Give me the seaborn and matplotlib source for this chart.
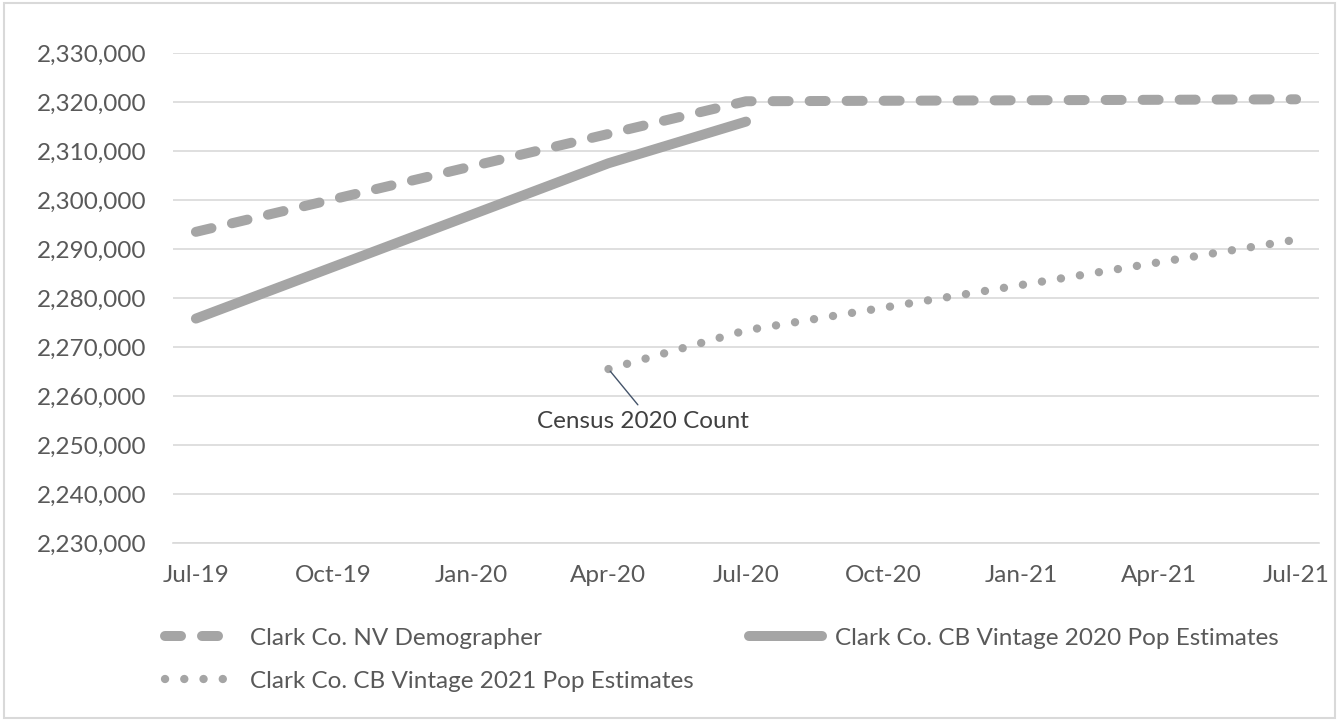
import pandas as pd
import matplotlib.pyplot as plt
import matplotlib.ticker as mticker
import seaborn as sns

# Clark County population estimates
series_names = ['Clark Co. NV Demographer',
                'Clark Co. CB Vintage 2020 Pop Estimates',
                'Clark Co. CB Vintage 2021 Pop Estimates']

demog_months = ['2019-07', '2020-07', '2021-07']
demog_values = [2293500, 2320150, 2320550]

v2020_months = ['2019-07', '2020-04', '2020-07']
v2020_values = [2275800, 2307500, 2316000]

v2021_months = ['2020-04', '2020-07', '2021-07']
v2021_values = [2265500, 2273400, 2291900]

tick_months = ['2019-07', '2019-10', '2020-01', '2020-04', '2020-07',
               '2020-10', '2021-01', '2021-04', '2021-07']
tick_labels = ['Jul-19', 'Oct-19', 'Jan-20', 'Apr-20', 'Jul-20',
               'Oct-20', 'Jan-21', 'Apr-21', 'Jul-21']

census_month = '2020-04'
census_value = 2265500

start = pd.Period('2019-07', freq='M')


def month_index(m):
    return (pd.Period(m, freq='M') - start).n


rows = []
for name, months, values in zip(series_names,
                                 [demog_months, v2020_months, v2021_months],
                                 [demog_values, v2020_values, v2021_values]):
    for m, v in zip(months, values):
        rows.append({'series': name, 'month': month_index(m), 'value': v})
df = pd.DataFrame(rows)

sns.set_theme(style='white')
plt.rcParams['font.family'] = ['Lato', 'DejaVu Sans']

gray = '#A5A5A5'
grid = '#D9D9D9'
text_color = '#595959'

fig = plt.figure(figsize=(13.39, 7.21), dpi=100)
ax = fig.add_axes([173 / 1339, 1 - 543 / 721, (1319 - 173) / 1339, (543 - 53) / 721])

sns.lineplot(data=df, x='month', y='value', hue='series', style='series',
             hue_order=series_names, style_order=series_names,
             palette=[gray] * 3,
             dashes={series_names[0]: (1.6, 2.1),
                     series_names[1]: '',
                     series_names[2]: (0.01, 2.3)},
             estimator=None, sort=True, legend=False, linewidth=7.2, ax=ax)

lines = ax.get_lines()
for ln in lines:
    ln.set_dash_capstyle('round')
    ln.set_solid_capstyle('round')
    ln.set_solid_joinstyle('round')
lines[2].set_linewidth(6.0)

# axes styling like the Excel chart
n_slots = month_index(tick_months[-1]) + 1
ax.set_xlim(-0.5, n_slots - 0.5)
ax.set_ylim(2230000, 2330000)
ax.yaxis.set_major_locator(mticker.MultipleLocator(10000))
ax.yaxis.set_major_formatter(mticker.FuncFormatter(lambda v, p: f'{v:,.0f}'))
ax.grid(axis='y', color=grid, linewidth=1.2)
ax.set_axisbelow(True)

tick_pos = [month_index(m) for m in tick_months]
ax.set_xticks(tick_pos)
ax.set_xticklabels(tick_labels)
ax.set_xticks([p - 0.5 for p in tick_pos], minor=True)
ax.tick_params(axis='x', which='major', length=0, pad=16, labelsize=17.5, labelcolor=text_color)
ax.tick_params(axis='x', which='minor', length=7, width=1.2, color=grid, direction='out')
ax.tick_params(axis='y', length=0, pad=19, labelsize=17.5, labelcolor=text_color)
ax.set_xlabel('')
ax.set_ylabel('')

for s in ['top', 'right', 'left']:
    ax.spines[s].set_visible(False)
ax.spines['bottom'].set_color(grid)
ax.spines['bottom'].set_linewidth(1.2)

# census count callout
ax.annotate('Census 2020 Count', xy=(month_index(census_month), census_value),
            xytext=(25, -38), textcoords='offset points',
            ha='center', va='center', fontsize=17.5, color='#404040',
            arrowprops=dict(arrowstyle='-', color='#44546A', lw=1,
                            relpos=(0.5, 1.0), shrinkA=3, shrinkB=2))

# legend below the plot, Excel order in rows
fig.legend(handles=[lines[0], lines[2], lines[1]],
           labels=[series_names[0], series_names[2], series_names[1]],
           ncol=2, loc='upper left', bbox_to_anchor=(155 / 1339, 1 - 618 / 721),
           frameon=False, fontsize=17.5, labelcolor=text_color,
           handlelength=3.0, handletextpad=0.5, columnspacing=2.3,
           labelspacing=0.9, borderaxespad=0)

# chart area border
fig.patches.append(plt.Rectangle((4 / 1339, 3 / 721), 1 - 8 / 1339, 1 - 6 / 721,
                                 transform=fig.transFigure, fill=False,
                                 edgecolor=grid, linewidth=1.5))

fig.savefig('out.png', dpi=100)
